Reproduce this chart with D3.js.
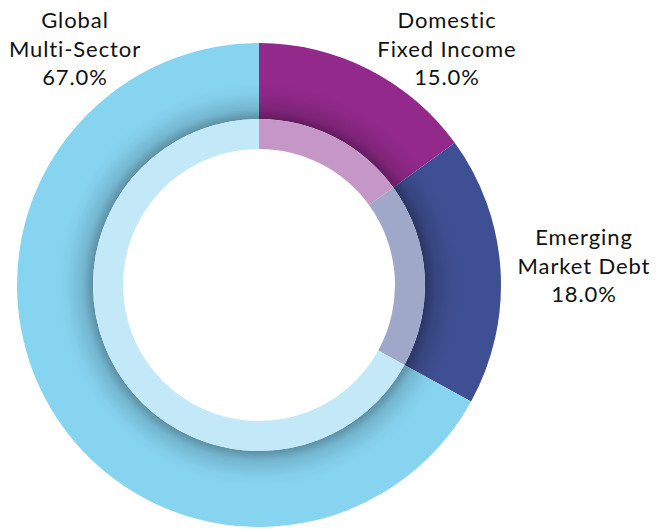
<!DOCTYPE html>
<html>
<head>
<meta charset="utf-8">
<script src="https://cdn.jsdelivr.net/npm/d3@7"></script>
<style>
  body { margin: 0; background: #fff; }
  text { font-family: Lato, "Open Sans", sans-serif; fill: #111; }
</style>
</head>
<body>
<div id="chart"></div>
<script>
// Data
const categories = ["Domestic Fixed Income", "Emerging Market Debt", "Global Multi-Sector"];
const values = [15.0, 18.0, 67.0];
const labelLines = [["Domestic", "Fixed Income"], ["Emerging", "Market Debt"], ["Global", "Multi-Sector"]];

const outerColors = ["#92298b", "#3f4f93", "#87d4f1"];
const innerColors = ["#c597c6", "#a0a8ca", "#c3e8f7"];

const width = 657, height = 529;
const cx = 259, cy = 285;
const rOuter = 242, rMid = 166, rInner = 136;

const svg = d3.select("#chart").append("svg")
  .attr("width", width)
  .attr("height", height);

const data = categories.map((c, i) => ({ name: c, value: values[i], i: i }));

const pie = d3.pie().sort(null).value(d => d.value);
const arcs = pie(data);

const g = svg.append("g").attr("transform", "translate(" + cx + "," + cy + ")");

// shadow gradient
const defs = svg.append("defs");
const grad = defs.append("radialGradient")
  .attr("id", "shade")
  .attr("gradientUnits", "userSpaceOnUse")
  .attr("cx", 0).attr("cy", 0).attr("r", rOuter);
grad.append("stop").attr("offset", rMid / rOuter).attr("stop-color", "#000").attr("stop-opacity", 0.32);
grad.append("stop").attr("offset", (rMid + 10) / rOuter).attr("stop-color", "#000").attr("stop-opacity", 0.14);
grad.append("stop").attr("offset", (rMid + 26) / rOuter).attr("stop-color", "#000").attr("stop-opacity", 0.03);
grad.append("stop").attr("offset", (rMid + 36) / rOuter).attr("stop-color", "#000").attr("stop-opacity", 0);

// outer ring
const outerArc = d3.arc().innerRadius(rMid).outerRadius(rOuter);
g.selectAll("path.outer")
  .data(arcs)
  .enter()
  .append("path")
  .attr("class", "outer")
  .attr("d", outerArc)
  .attr("fill", d => outerColors[d.data.i]);

// shadow over the outer ring
g.append("path")
  .attr("d", d3.arc().innerRadius(rMid).outerRadius(rOuter).startAngle(0).endAngle(2 * Math.PI))
  .attr("fill", "url(#shade)");

// inner lighter ring
const innerArc = d3.arc().innerRadius(rInner).outerRadius(rMid);
g.selectAll("path.inner")
  .data(arcs)
  .enter()
  .append("path")
  .attr("class", "inner")
  .attr("d", innerArc)
  .attr("fill", d => innerColors[d.data.i]);

// labels
const labelPos = [[447, 28], [584, 245], [75, 28]];
const lineH = 28.5;
arcs.forEach(function (d) {
  const i = d.data.i;
  const lines = labelLines[i].concat([d3.format(".1f")(d.data.value) + "%"]);
  const t = svg.append("text")
    .attr("text-anchor", "middle")
    .style("font-size", "22px")
    .style("letter-spacing", "0.9px");
  lines.forEach(function (l, k) {
    t.append("tspan")
      .attr("x", labelPos[i][0])
      .attr("y", labelPos[i][1] + k * lineH)
      .text(l);
  });
});
</script>
</body>
</html>
